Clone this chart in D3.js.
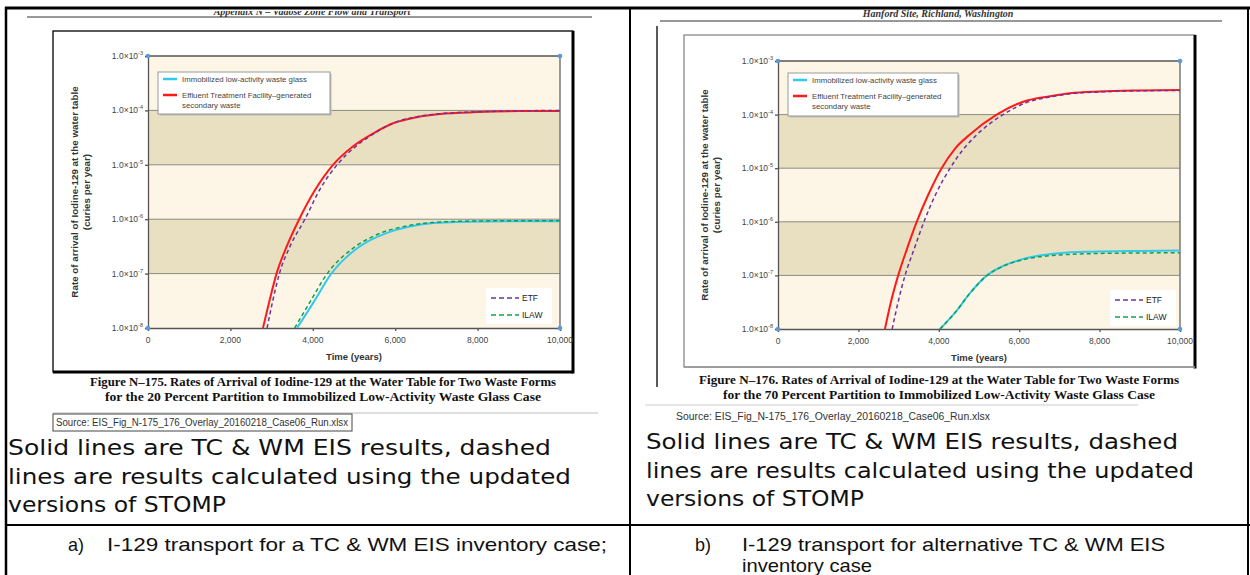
<!DOCTYPE html>
<html>
<head>
<meta charset="utf-8">
<script src="https://cdn.jsdelivr.net/npm/d3@7"></script>
<style>
  body { margin: 0; background: #fff; }
  svg { display: block; font-family: "Liberation Sans", Arial, sans-serif; }
</style>
</head>
<body>
<svg id="page" width="1250" height="575"></svg>
<script>
// ---- axis ticks ----
const rateTicks = [1e-3, 1e-4, 1e-5, 1e-6, 1e-7, 1e-8];
const rateExps = ['-3', '-4', '-5', '-6', '-7', '-8'];
const timeTicks = [0, 2000, 4000, 6000, 8000, 10000];

// ---- Figure N-175 (20 percent partition) ----
const n175EtfEisYears = [2790, 2950, 3120, 3370, 3670, 4050, 4490, 4980, 5470, 5950, 6520, 7090, 8000, 9000, 10000];
const n175EtfEisRates = [1e-8, 3.2e-8, 1e-7, 3.2e-7, 1e-6, 3.4e-6, 1e-5, 2.2e-5, 3.8e-5, 5.8e-5, 7.5e-5, 8.6e-5, 9.3e-5, 9.7e-5, 9.8e-5];
const n175EtfStompYears = [2890, 3030, 3190, 3450, 3810, 4160, 4590, 5050, 5500, 5960, 6520, 7090, 8000, 9000, 10000];
const n175EtfStompRates = [1e-8, 3.2e-8, 1e-7, 3.2e-7, 1e-6, 3.4e-6, 1e-5, 2.2e-5, 3.8e-5, 5.9e-5, 7.6e-5, 8.7e-5, 9.4e-5, 9.8e-5, 1e-4];
const n175IlawEisYears = [3620, 4010, 4450, 5030, 5150, 5800, 6300, 6930, 8100, 10000];
const n175IlawEisRates = [1e-8, 2.9e-8, 1e-7, 2.75e-7, 3.2e-7, 5.6e-7, 7.2e-7, 8.5e-7, 9.1e-7, 9.2e-7];
const n175IlawStompYears = [3560, 3920, 4350, 4930, 5050, 5680, 6200, 6900, 8100, 10000];
const n175IlawStompRates = [1e-8, 2.9e-8, 1e-7, 2.75e-7, 3.2e-7, 5.7e-7, 7.3e-7, 8.7e-7, 9.3e-7, 9.4e-7];

// ---- Figure N-176 (70 percent partition) ----
const n176EtfEisYears = [2660, 2800, 2990, 3200, 3450, 3720, 4070, 4400, 4780, 5440, 6100, 6770, 7260, 8000, 9000, 10000];
const n176EtfEisRates = [1e-8, 3e-8, 1e-7, 3e-7, 1e-6, 3e-6, 1e-5, 2.3e-5, 4.3e-5, 1e-4, 1.74e-4, 2.2e-4, 2.5e-4, 2.7e-4, 2.82e-4, 2.88e-4];
const n176EtfStompYears = [2840, 2980, 3160, 3380, 3630, 3900, 4280, 4600, 4930, 5600, 6200, 6800, 7260, 8000, 9000, 10000];
const n176EtfStompRates = [1e-8, 3e-8, 1e-7, 3e-7, 1e-6, 3e-6, 1e-5, 2.2e-5, 4.1e-5, 1e-4, 1.7e-4, 2.15e-4, 2.45e-4, 2.65e-4, 2.78e-4, 2.83e-4];
const n176IlawEisYears = [4030, 4445, 4780, 5200, 5600, 6020, 6500, 7000, 7800, 9000, 10000];
const n176IlawEisRates = [1e-8, 2.2e-8, 4.7e-8, 1e-7, 1.5e-7, 1.95e-7, 2.35e-7, 2.6e-7, 2.77e-7, 2.86e-7, 2.9e-7];
const n176IlawStompYears = [4030, 4445, 4780, 5200, 5600, 6020, 6500, 7000, 7800, 9000, 10000];
const n176IlawStompRates = [1e-8, 2.2e-8, 4.7e-8, 1e-7, 1.48e-7, 1.9e-7, 2.22e-7, 2.4e-7, 2.55e-7, 2.62e-7, 2.65e-7];

// ---- texts ----
const legendLabels = ['Immobilized low-activity waste glass', 'Effluent Treatment Facility\u2013generated', 'secondary waste'];
const dashLabels = ['ETF', 'ILAW'];
const yTitle = ['Rate of arrival of Iodine-129 at the water table', '(curies per year)'];
const xTitle = 'Time (years)';
const sourceText = 'Source: EIS_Fig_N-175_176_Overlay_20160218_Case06_Run.xlsx';
const noteLines = ['Solid lines are TC & WM EIS results, dashed', 'lines are results calculated using the updated', 'versions of STOMP'];

const col = { eis: '#ff1a1a', ilaw: '#33c8ec', etfDash: '#7030a0', ilawDash: '#10a050', cream: '#fdf6e6', tan: '#e9e0c2', dot: '#5b9bd5' };

const svg = d3.select('#page');
svg.append('rect').attr('width', 1250).attr('height', 575).attr('fill', '#fff');

function mk(years, rates) { return years.map((t, i) => ({ t, r: rates[i] })); }

function drawPanel(p) {
    const g = svg.append('g');
    const x = d3.scaleLinear().domain([0, 10000]).range([p.x0, p.x1]);
    const y = d3.scaleLog().domain([1e-8, 1e-3]).range([p.y1, p.y0]);

    // frame of the scanned figure
    g.append('rect').attr('x', p.fx).attr('y', p.fy).attr('width', p.fw).attr('height', p.fh)
        .attr('fill', '#fff').attr('stroke', p.frameCol).attr('stroke-width', 1.3);
    g.append('line').attr('x1', p.fx + p.fw).attr('x2', p.fx + p.fw).attr('y1', p.fy).attr('y2', p.fy + p.fh + 1.5)
        .attr('stroke', '#000').attr('stroke-width', 3);
    g.append('line').attr('x1', p.fx).attr('x2', p.fx + p.fw).attr('y1', p.fy + p.fh).attr('y2', p.fy + p.fh)
        .attr('stroke', p.bottomCol).attr('stroke-width', p.bottomW);

    // bands
    for (let i = 0; i < rateTicks.length - 1; i++) {
        g.append('rect').attr('x', x(0)).attr('width', x(10000) - x(0))
            .attr('y', y(rateTicks[i])).attr('height', y(rateTicks[i + 1]) - y(rateTicks[i]))
            .attr('fill', i % 2 ? col.tan : col.cream);
    }
    g.append('g').selectAll('line').data(rateTicks.slice(1, -1)).join('line')
        .attr('x1', x(0)).attr('x2', x(10000)).attr('y1', d => y(d)).attr('y2', d => y(d))
        .attr('stroke', '#8a8a80').attr('stroke-width', 1);

    // axes
    const ya = g.append('g').attr('transform', `translate(${x(0)},0)`)
        .call(d3.axisLeft(y).tickValues(rateTicks).tickSize(3).tickFormat(''));
    const xa = g.append('g').attr('transform', `translate(0,${y(1e-8)})`)
        .call(d3.axisBottom(x).tickValues(timeTicks).tickSize(3).tickFormat(''));
    [ya, xa].forEach(a => a.selectAll('path,line').attr('stroke', '#555').attr('stroke-width', 1.3));
    g.append('line').attr('x1', x(0)).attr('x2', x(10000)).attr('y1', y(1e-3)).attr('y2', y(1e-3))
        .attr('stroke', '#555').attr('stroke-width', 1.5);
    g.append('line').attr('x1', x(10000)).attr('x2', x(10000)).attr('y1', y(1e-3)).attr('y2', y(1e-8))
        .attr('stroke', '#777').attr('stroke-width', 1.5);

    rateTicks.forEach((v, i) => {
        const t = g.append('text').attr('x', x(0) - 5).attr('y', y(v) + 3).attr('text-anchor', 'end')
            .attr('font-size', 8.5).attr('fill', '#444').text('1.0\u00d710');
        t.append('tspan').attr('dy', -4).attr('font-size', 5.5).text(rateExps[i]);
    });
    g.selectAll('.xl').data(timeTicks).join('text').attr('class', 'xl')
        .attr('x', d => x(d)).attr('y', y(1e-8) + 15).attr('text-anchor', 'middle')
        .attr('font-size', 8.5).attr('fill', '#444').text(d => d3.format(',')(d));

    g.append('text').attr('x', (x(0) + x(10000)) / 2).attr('y', y(1e-8) + 32).attr('text-anchor', 'middle')
        .attr('font-size', 9.5).attr('font-weight', 'bold').attr('fill', '#333').text(xTitle);
    yTitle.forEach((s, i) => {
        g.append('text').attr('transform', `translate(${p.titleX + i * 12},${(y(1e-3) + y(1e-8)) / 2}) rotate(-90)`)
            .attr('text-anchor', 'middle').attr('font-size', 9.8).attr('font-weight', 'bold').attr('fill', '#333').text(s);
    });

    // curves
    const clipId = 'clip' + p.id;
    g.append('clipPath').attr('id', clipId).append('rect')
        .attr('x', x(0)).attr('y', y(1e-3)).attr('width', x(10000) - x(0)).attr('height', y(1e-8) - y(1e-3));
    const line = d3.line().x(d => x(d.t)).y(d => y(d.r)).curve(d3.curveMonotoneX);
    const cg = g.append('g').attr('clip-path', `url(#${clipId})`);
    p.series.forEach(s => {
        cg.append('path').datum(s.data).attr('d', line).attr('fill', 'none')
            .attr('stroke', s.color).attr('stroke-width', s.dash ? 1.5 : 2)
            .attr('stroke-dasharray', s.dash ? '4,3' : null);
    });

    // corner dots
    [[0, 1e-3], [10000, 1e-3], [0, 1e-8], [10000, 1e-8]].forEach(([a, b]) => {
        g.append('circle').attr('cx', x(a)).attr('cy', y(b)).attr('r', 2.3).attr('fill', col.dot);
    });

    // legend, top left
    const L = p.leg;
    g.append('rect').attr('x', L.x + 1.5).attr('y', L.y + 1.5).attr('width', L.w).attr('height', L.h).attr('fill', '#bbb');
    g.append('rect').attr('x', L.x).attr('y', L.y).attr('width', L.w).attr('height', L.h)
        .attr('fill', '#fff').attr('stroke', '#999').attr('stroke-width', 1);
    [[col.ilaw, 7], [col.eis, 23]].forEach(([c, dy]) => {
        g.append('line').attr('x1', L.x + 5).attr('x2', L.x + 19).attr('y1', L.y + dy).attr('y2', L.y + dy)
            .attr('stroke', c).attr('stroke-width', 2.5);
    });
    [7, 23, 33].forEach((dy, i) => {
        g.append('text').attr('x', L.x + 24).attr('y', L.y + dy + 3).attr('font-size', 7.8).attr('fill', '#444').text(legendLabels[i]);
    });

    // legend, bottom right
    const D = p.dleg;
    g.append('rect').attr('x', D.x).attr('y', D.y).attr('width', 66).attr('height', 36).attr('fill', '#fff');
    [[col.etfDash, 10], [col.ilawDash, 27]].forEach(([c, dy], i) => {
        g.append('line').attr('x1', D.x + 5).attr('x2', D.x + 33).attr('y1', D.y + dy).attr('y2', D.y + dy)
            .attr('stroke', c).attr('stroke-width', 1.4).attr('stroke-dasharray', '5,3');
        g.append('text').attr('x', D.x + 36).attr('y', D.y + dy + 3).attr('font-size', 8.5).attr('fill', '#222').text(dashLabels[i]);
    });

    // caption under the figure
    p.caption.forEach((s, i) => {
        g.append('text').attr('x', p.capX).attr('y', p.capY + i * 15).attr('text-anchor', 'middle')
            .attr('font-family', '"Liberation Serif", "Times New Roman", serif').attr('font-weight', 'bold')
            .attr('font-size', 12.5).attr('fill', '#111')
            .attr('textLength', p.capW[i]).attr('lengthAdjust', 'spacingAndGlyphs').text(s);
    });
}

const panels = [
    {
        id: 'a', fx: 53, fy: 31, fw: 520, fh: 341, x0: 148, x1: 560, y0: 56, y1: 328, titleX: 78,
        frameCol: '#000', bottomCol: '#000', bottomW: 3,
        leg: { x: 158, y: 72, w: 172, h: 42 }, dleg: { x: 486, y: 288 },
        capX: 323, capY: 386, capW: [466, 436],
        caption: ['Figure N\u2013175.  Rates of Arrival of Iodine-129 at the Water Table for Two Waste Forms',
                  'for the 20 Percent Partition to Immobilized Low-Activity Waste Glass Case'],
        series: [
            { data: mk(n175EtfEisYears, n175EtfEisRates), color: col.eis },
            { data: mk(n175IlawEisYears, n175IlawEisRates), color: col.ilaw },
            { data: mk(n175EtfStompYears, n175EtfStompRates), color: col.etfDash, dash: true },
            { data: mk(n175IlawStompYears, n175IlawStompRates), color: col.ilawDash, dash: true }
        ]
    },
    {
        id: 'b', fx: 684, fy: 35, fw: 511, fh: 332, x0: 778, x1: 1180, y0: 61, y1: 329, titleX: 708,
        frameCol: '#888', bottomCol: '#999', bottomW: 1.5,
        leg: { x: 788, y: 73, w: 170, h: 43 }, dleg: { x: 1110, y: 290 },
        capX: 939, capY: 384, capW: [480, 432],
        caption: ['Figure N\u2013176.  Rates of Arrival of Iodine-129 at the Water Table for Two Waste Forms',
                  'for the 70 Percent Partition to Immobilized Low-Activity Waste Glass Case'],
        series: [
            { data: mk(n176EtfEisYears, n176EtfEisRates), color: col.eis },
            { data: mk(n176IlawEisYears, n176IlawEisRates), color: col.ilaw },
            { data: mk(n176EtfStompYears, n176EtfStompRates), color: col.etfDash, dash: true },
            { data: mk(n176IlawStompYears, n176IlawStompRates), color: col.ilawDash, dash: true }
        ]
    }
];

// page headers of the scanned report pages
svg.append('text').attr('x', 312).attr('y', 15).attr('text-anchor', 'middle')
    .attr('font-family', '"Liberation Serif", serif').attr('font-style', 'italic').attr('font-weight', 'bold')
    .attr('font-size', 10).attr('fill', '#333').text('Appendix N \u2013 Vadose Zone Flow and Transport');
svg.append('rect').attr('x', 0).attr('y', 0).attr('width', 630).attr('height', 11).attr('fill', '#fff');
svg.append('line').attr('x1', 27).attr('x2', 592).attr('y1', 17).attr('y2', 17).attr('stroke', '#333').attr('stroke-width', 1.2);
svg.append('text').attr('x', 938).attr('y', 17).attr('text-anchor', 'middle')
    .attr('font-family', '"Liberation Serif", serif').attr('font-style', 'italic').attr('font-weight', 'bold')
    .attr('font-size', 10).attr('fill', '#333').text('Hanford Site, Richland, Washington');
svg.append('line').attr('x1', 660).attr('x2', 1222).attr('y1', 21).attr('y2', 21).attr('stroke', '#333').attr('stroke-width', 1.2);
svg.append('line').attr('x1', 657).attr('x2', 657).attr('y1', 26).attr('y2', 387).attr('stroke', '#222').attr('stroke-width', 1.5);

panels.forEach(drawPanel);

// source notes
svg.append('line').attr('x1', 53).attr('x2', 598).attr('y1', 413).attr('y2', 413).attr('stroke', '#bbb');
svg.append('rect').attr('x', 53).attr('y', 414).attr('width', 299).attr('height', 17).attr('fill', '#fff').attr('stroke', '#444');
svg.append('text').attr('x', 56).attr('y', 426).attr('font-size', 10).attr('fill', '#333')
    .attr('textLength', 292).attr('lengthAdjust', 'spacingAndGlyphs').text(sourceText);
svg.append('line').attr('x1', 645).attr('x2', 1138).attr('y1', 405).attr('y2', 405).attr('stroke', '#ccc');
svg.append('text').attr('x', 676).attr('y', 420).attr('font-size', 10).attr('fill', '#333')
    .attr('textLength', 314).attr('lengthAdjust', 'spacingAndGlyphs').text(sourceText);

// explanatory notes
const noteWidths = [[543, 563, 218], [532, 548, 218]];
[[8, 455], [646, 449]].forEach(([nx, ny], k) => {
    noteLines.forEach((s, i) => {
        svg.append('text').attr('x', nx).attr('y', ny + i * 28.5)
            .attr('font-family', '"DejaVu Sans", Verdana, sans-serif').attr('font-size', 21.5).attr('fill', '#111')
            .attr('textLength', noteWidths[k][i]).attr('lengthAdjust', 'spacingAndGlyphs').text(s);
    });
});

// bottom row captions
const capFont = '"Liberation Sans", Arial, sans-serif';
function cap(xp, yp, s, w) {
    const t = svg.append('text').attr('x', xp).attr('y', yp).attr('font-family', capFont).attr('font-size', 18.5).attr('fill', '#111').text(s);
    if (w) t.attr('textLength', w).attr('lengthAdjust', 'spacingAndGlyphs');
}
cap(68, 551, 'a)', 16);
cap(107, 551, 'I-129 transport for a TC & WM EIS inventory case;', 500);
cap(695, 551, 'b)', 16);
cap(742, 551, 'I-129 transport for alternative TC & WM EIS', 423);
cap(742, 572, 'inventory case', 130);

// table rules
const rule = (x1, y1, x2, y2, w) => svg.append('line').attr('x1', x1).attr('y1', y1).attr('x2', x2).attr('y2', y2)
    .attr('stroke', '#000').attr('stroke-width', w);
rule(5, 8, 1250, 8, 3);
rule(6, 7, 6, 575, 2.5);
rule(630, 7, 630, 575, 2);
rule(1248, 7, 1248, 575, 2);
rule(5, 525, 1250, 525, 2);
</script>
</body>
</html>
